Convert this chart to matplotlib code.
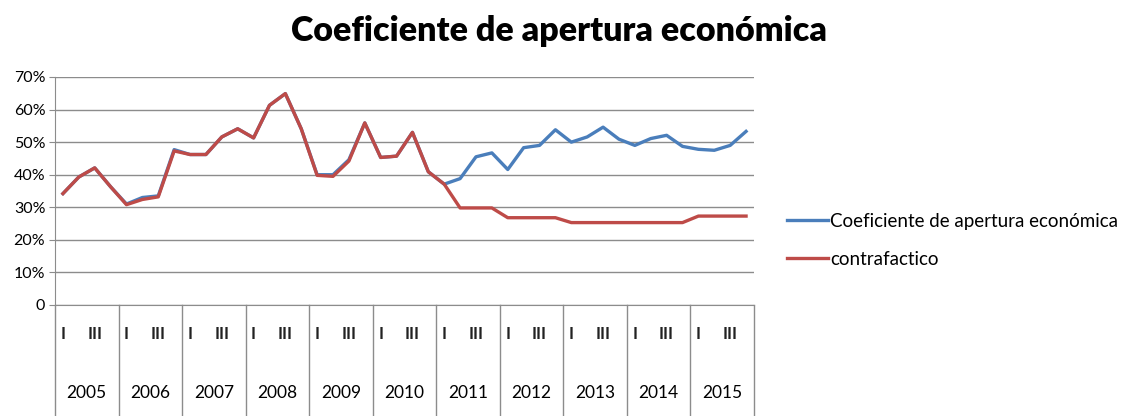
import matplotlib
matplotlib.use("Agg")
import matplotlib.pyplot as plt
import matplotlib.transforms as mtransforms
import numpy as np

plt.rcParams['font.family'] = ['Lato', 'DejaVu Sans']

years = ['2005', '2006', '2007', '2008', '2009', '2010', '2011', '2012', '2013', '2014', '2015']
quarter_labels = ['I', '', 'III', '']

coef = [34.2, 39.3, 42.1, 36.3, 31.0, 33.0, 33.5, 47.7,
        46.2, 46.2, 51.6, 54.1, 51.3, 61.3, 64.9, 54.1,
        40.0, 40.0, 44.6, 55.9, 45.3, 45.7, 53.0, 40.9,
        37.1, 38.8, 45.5, 46.7, 41.6, 48.3, 49.0, 53.8,
        50.0, 51.6, 54.6, 50.9, 49.0, 51.1, 52.1, 48.7,
        47.8, 47.5, 49.0, 53.3]
contra = [34.2, 39.3, 42.1, 36.3, 30.8, 32.4, 33.2, 47.3,
          46.2, 46.2, 51.6, 54.1, 51.3, 61.3, 64.9, 54.1,
          39.8, 39.5, 44.2, 55.9, 45.3, 45.7, 53.0, 40.9,
          37.1, 29.8, 29.8, 29.8, 26.8, 26.8, 26.8, 26.8,
          25.3, 25.3, 25.3, 25.3, 25.3, 25.3, 25.3, 25.3,
          27.3, 27.3, 27.3, 27.3]

yticks = [0, 10, 20, 30, 40, 50, 60, 70]
ytick_labels = ['0', '10%', '20%', '30%', '40%', '50%', '60%', '70%']

fig = plt.figure(figsize=(11.25, 4.16), dpi=100)
ax = fig.add_axes([55/1125, 1-305/416, (754-55)/1125, (305-77)/416])

n = len(coef)
x = np.arange(n)
blue = '#4a7ebb'
red = '#be4b48'
grid = '#8c8c8c'

ax.plot(x, coef, color=blue, lw=2.4, solid_joinstyle='round', label='Coeficiente de apertura económica', zorder=3)
ax.plot(x, contra, color=red, lw=2.4, solid_joinstyle='round', label='contrafactico', zorder=4)

ax.set_xlim(-0.5, n - 0.5)
ax.set_ylim(0, 70)
ax.set_yticks(yticks)
ax.set_yticklabels(ytick_labels, fontsize=11.5)
ax.yaxis.grid(True, color=grid, lw=1)
ax.set_axisbelow(True)
ax.tick_params(axis='y', length=4, color=grid, pad=3)
ax.set_xticks([])
ax.spines['top'].set_visible(False)
ax.spines['right'].set_visible(False)
ax.spines['left'].set_color(grid)
ax.spines['bottom'].set_color(grid)

trans = mtransforms.blended_transform_factory(ax.transData, ax.transAxes)
bottom_ax = -(416 - 305) / (305 - 77)
for k in range(len(years) + 1):
    b = k * 4 - 0.5
    ax.plot([b, b], [0, bottom_ax], transform=trans, color=grid, lw=1, clip_on=False)
q_y = -(334 - 305) / (305 - 77)
y_y = -(393 - 305) / (305 - 77)
for yi, yr in enumerate(years):
    for qi, ql in enumerate(quarter_labels):
        if ql:
            ax.text(yi * 4 + qi, q_y, ql, transform=trans, ha='center', va='center',
                    fontsize=12, fontweight='bold', color='#222222')
    ax.text(yi * 4 + 1.5, y_y, yr, transform=trans, ha='center', va='center', fontsize=12.5, color='black')

fig.text(559/1125, 1-31/416, 'Coeficiente de apertura económica', ha='center', va='center',
         fontsize=24.5, fontweight='heavy')

leg = fig.legend(loc='upper left', bbox_to_anchor=(770/1125, 1-196/416), frameon=False,
                 fontsize=13.5, handlelength=2.2, handletextpad=0.1, labelspacing=1.12)

fig.savefig('out.png', dpi=100)
